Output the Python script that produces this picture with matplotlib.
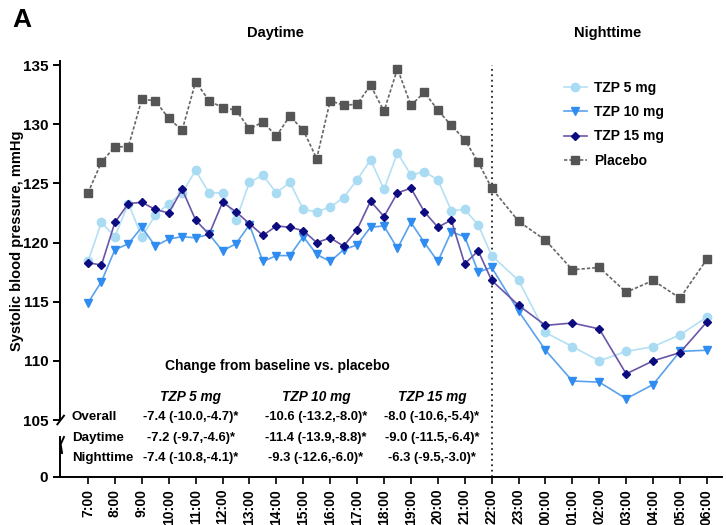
import numpy as np
import matplotlib
matplotlib.use("Agg")
from matplotlib import pyplot as plt
from matplotlib.lines import Line2D

plt.rcParams['font.family'] = ['Liberation Sans', 'DejaVu Sans']

# half-hourly daytime readings 7:00-22:00, hourly nighttime 23:00-06:00
day_hours = np.arange(7, 22.01, 0.5)
night_hours = np.arange(23, 31)
hours = np.concatenate([day_hours, night_hours])

placebo = [124.2, 126.8, 128.1, 128.1, 132.1, 132.0, 130.5, 129.5, 133.6, 132.0,
           131.4, 131.2, 129.6, 130.2, 129.0, 130.7, 129.5, 127.1, 132.0, 131.6,
           131.7, 133.3, 131.1, 134.7, 131.6, 132.7, 131.2, 129.9, 128.7, 126.8,
           124.6,
           121.8, 120.2, 117.7, 117.9, 115.8, 116.8, 115.3, 118.6]
tzp5 = [118.4, 121.7, 120.5, 123.3, 120.5, 122.3, 123.3, 124.2, 126.1, 124.2,
        124.2, 121.9, 125.1, 125.7, 124.2, 125.1, 122.8, 122.6, 123.0, 123.8,
        125.3, 127.0, 124.5, 127.6, 125.7, 126.0, 125.3, 122.7, 122.8, 121.5,
        118.9,
        116.8, 112.4, 111.2, 110.0, 110.8, 111.2, 112.2, 113.7]
tzp10 = [114.9, 116.7, 119.4, 119.9, 121.3, 119.7, 120.3, 120.5, 120.4, 120.7,
         119.3, 119.9, 121.5, 118.4, 118.9, 118.9, 120.5, 119.0, 118.4, 119.4,
         119.8, 121.3, 121.4, 119.5, 121.7, 120.0, 118.4, 120.9, 120.5, 117.5,
         117.9,
         114.2, 110.9, 108.3, 108.2, 106.8, 108.0, 110.8, 110.9]
tzp15 = [118.3, 118.1, 121.7, 123.3, 123.4, 122.8, 122.5, 124.5, 121.9, 120.7,
         123.4, 122.6, 121.6, 120.6, 121.4, 121.3, 121.0, 120.0, 120.4, 119.7,
         121.1, 123.5, 122.2, 124.2, 124.6, 122.6, 121.3, 121.9, 118.2, 119.3,
         116.8,
         114.7, 113.0, 113.2, 112.7, 108.9, 110.0, 110.7, 113.3]

tick_hours = np.arange(7, 31)
tick_labels = ["%d:00" % h if h < 24 else "%02d:00" % (h - 24) for h in tick_hours]
split_hour = 22

row_names = ["Overall", "Daytime", "Nighttime"]
col_names = ["TZP 5 mg", "TZP 10 mg", "TZP 15 mg"]
table = [["-7.4 (-10.0,-4.7)*", "-10.6 (-13.2,-8.0)*", "-8.0 (-10.6,-5.4)*"],
         ["-7.2 (-9.7,-4.6)*", "-11.4 (-13.9,-8.8)*", "-9.0 (-11.5,-6.4)*"],
         ["-7.4 (-10.8,-4.1)*", "-9.3 (-12.6,-6.0)*", "-6.3 (-9.5,-3.0)*"]]

W, H = 726, 525
fig = plt.figure(figsize=(W / 100, H / 100), dpi=100)

def box(x0, y0, x1, y1):
    return [x0 / W, 1 - y1 / H, (x1 - x0) / W, (y1 - y0) / H]

ax = fig.add_axes(box(60, 61, 722, 420))
axb = fig.add_axes(box(60, 437, 722, 477))
axb.patch.set_visible(False)

xlim = (5.96, 30.56)
ax.set_xlim(*xlim)
axb.set_xlim(*xlim)
ax.set_ylim(105, 135.35)
axb.set_ylim(0, 3.3)

series = [
    ("TZP 5 mg", tzp5, '#b3e0f5', '#a9dcf3', 'o', 6, '-'),
    ("TZP 10 mg", tzp10, '#5aa2ec', '#2f8cf0', 'v', 6, '-'),
    ("TZP 15 mg", tzp15, '#6a55a8', '#0c0c80', 'D', 4.5, '-'),
    ("Placebo", placebo, '#666666', '#555555', 's', 6, (0, (2, 1.2))),
]
handles = []
for name, vals, lc, mc, mk, ms, ls in series:
    ax.plot(hours, vals, color=lc, lw=1.2, ls=ls, marker=mk, ms=ms,
            mfc=mc, mec=mc, zorder=3)
    handles.append(Line2D([], [], color=lc, lw=1.2, ls=ls, marker=mk, ms=ms,
                          mfc=mc, mec=mc))

# dotted day/night separator running through the axis break
ax.axvline(split_hour, ymin=-(477 - 420) / (420 - 61), ymax=0.99, color='#222222',
           ls=(0, (1, 2)), lw=1.3, clip_on=False, zorder=2)

for a in (ax, axb):
    for s in ('top', 'right'):
        a.spines[s].set_visible(False)
    a.spines['left'].set_linewidth(1.4)
    a.tick_params(axis='y', width=1.4, length=5, labelsize=11)

ax.spines['bottom'].set_visible(False)
ax.set_xticks([])
ax.set_yticks(np.arange(105, 136, 5))
ax.set_yticklabels([str(v) for v in range(105, 136, 5)], fontweight='bold')
axb.set_yticks([0])
axb.set_yticklabels(["0"], fontweight='bold')
axb.spines['bottom'].set_linewidth(1.4)
axb.set_xticks(tick_hours)
axb.set_xticklabels(tick_labels, rotation=90, fontweight='bold', fontsize=10)
axb.tick_params(axis='x', width=1.2, length=5)

# break marks on the y axis
ax.plot([-0.004, 0.006], [-0.012, 0.012], transform=ax.transAxes, color='k',
        lw=1.4, clip_on=False)
axb.plot([0.006, 0.001, 0.003], [1.0, 0.82, 0.6], transform=axb.transAxes,
         color='k', lw=1.4, clip_on=False)

fig.text(17 / W, 1 - 241 / H, "Systolic blood pressure, mmHg", rotation=90,
         ha='center', va='center', fontsize=10.5, fontweight='bold')
fig.text(12 / W, 1 - 20 / H, "A", fontsize=19, fontweight='bold', va='center')
fig.text(275 / W, 1 - 33 / H, "Daytime", fontsize=10.5, fontweight='bold',
         ha='center', va='center')
fig.text(608 / W, 1 - 33 / H, "Nighttime", fontsize=10.5, fontweight='bold',
         ha='center', va='center')

fig.legend(handles, [s[0] for s in series], loc='upper left',
           bbox_to_anchor=(558 / W, 1 - 75 / H), frameon=False,
           prop={'size': 10, 'weight': 'bold'}, handlelength=1.7,
           handletextpad=0.5, labelspacing=0.75, borderaxespad=0)

fig.text(277 / W, 1 - 366 / H, "Change from baseline vs. placebo", fontsize=10,
         fontweight='bold', ha='center', va='center')
col_x = [191, 316, 432]
for cx, cn in zip(col_x, col_names):
    fig.text(cx / W, 1 - 397 / H, cn, fontsize=9.8, fontweight='bold',
             style='italic', ha='center', va='center')
row_y = [417, 438, 458]
for ry, rn, vals in zip(row_y, row_names, table):
    fig.text(72 / W, 1 - ry / H, rn, fontsize=9.6, fontweight='bold',
             ha='left', va='center')
    for cx, v in zip(col_x, vals):
        fig.text(cx / W, 1 - ry / H, v, fontsize=9.4, fontweight='bold',
                 ha='center', va='center')

fig.savefig("out.png", dpi=100)
